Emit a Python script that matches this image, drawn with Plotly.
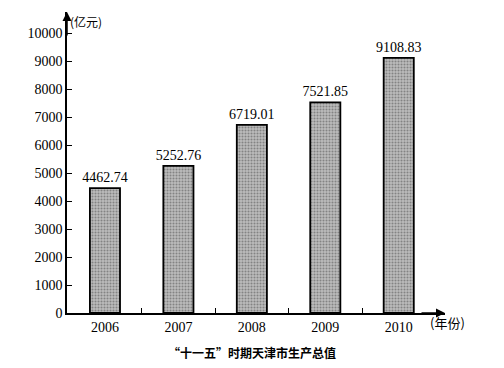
import plotly.graph_objects as go

years = ["2006", "2007", "2008", "2009", "2010"]
values = [4462.74, 5252.76, 6719.01, 7521.85, 9108.83]
value_labels = ["4462.74", "5252.76", "6719.01", "7521.85", "9108.83"]
y_ticks = [0, 1000, 2000, 3000, 4000, 5000, 6000, 7000, 8000, 9000, 10000]

xpos = list(range(len(years)))
serif = "Liberation Serif"
cjk = "Noto Sans CJK SC"

fig = go.Figure()
fig.add_trace(go.Bar(
    x=xpos, y=values, width=0.41,
    marker=dict(color="#a8a8a8",
                line=dict(color="black", width=1.8),
                pattern=dict(shape=".", fgcolor="#4a4a4a", bgcolor="#bdbdbd",
                             size=3, solidity=0.4)),
    text=value_labels, textposition="outside", cliponaxis=False,
    constraintext="none",
    textfont=dict(family=serif, size=14, color="black"),
))

# the page body has an 8px default margin, so the figure is sized/offset to compensate
fig.update_layout(
    width=496, height=360,
    margin=dict(l=59, r=59, t=4, b=55, autoexpand=False),
    paper_bgcolor="white", plot_bgcolor="white",
    showlegend=False,
    xaxis=dict(range=[-0.517, 4.63], tickmode="array", tickvals=xpos, ticktext=years,
               showline=True, linecolor="black", linewidth=1.5, ticks="", showgrid=False,
               zeroline=False,
               tickfont=dict(family=serif, size=14, color="black"),
               minor=dict(tickmode="array", tickvals=[0.5, 1.5, 2.5, 3.5],
                          ticks="inside", ticklen=5, tickcolor="black", tickwidth=1.2)),
    yaxis=dict(range=[0, 10750], tickmode="array", tickvals=y_ticks,
               ticktext=[str(v) for v in y_ticks],
               showline=True, linecolor="black", linewidth=1.5,
               ticks="inside", ticklen=5, tickcolor="black", tickwidth=1.2,
               showgrid=False, zeroline=False,
               tickfont=dict(family=serif, size=14, color="black")),
)

# axis arrows
fig.add_annotation(xref="paper", yref="paper", x=0, y=1, ax=0, ay=25, text="",
                   showarrow=True, arrowhead=2, arrowsize=1.2, arrowwidth=1.5, arrowcolor="black")
fig.add_annotation(xref="paper", yref="paper", x=1, y=0, ax=-25, ay=0, text="",
                   showarrow=True, arrowhead=2, arrowsize=1.2, arrowwidth=1.5, arrowcolor="black")

fig.add_annotation(xref="paper", yref="paper", x=0, y=1, xanchor="left", yanchor="top",
                   xshift=2, yshift=0, borderpad=0, text="(亿元)", showarrow=False,
                   font=dict(family=cjk, size=12, color="black"))
fig.add_annotation(xref="paper", yref="paper", x=1, y=0, xanchor="left", yanchor="middle",
                   xshift=-17, yshift=-9, text="(年份)", showarrow=False,
                   font=dict(family=cjk, size=13, color="black"))
fig.add_annotation(xref="paper", yref="paper", x=0.5, y=0, xanchor="center", yanchor="middle",
                   xshift=-4, yshift=-39, text="<b>“十一五”时期天津市生产总值</b>", showarrow=False,
                   font=dict(family=cjk, size=12, color="black"))

fig.write_html("out.html")
